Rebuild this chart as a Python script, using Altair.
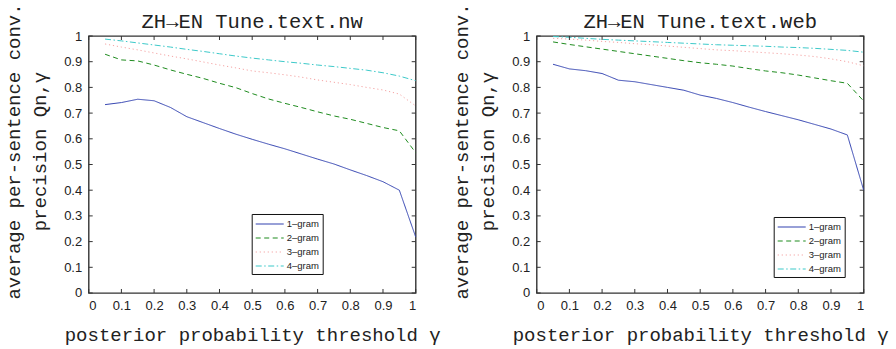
import altair as alt
import pandas as pd

# posterior probability threshold values (x)
gamma = [0.05, 0.10, 0.15, 0.20, 0.25, 0.30, 0.35, 0.40, 0.45, 0.50,
         0.55, 0.60, 0.65, 0.70, 0.75, 0.80, 0.85, 0.90, 0.95, 1.00]

series_names = ["1\u2013gram", "2\u2013gram", "3\u2013gram", "4\u2013gram"]

# Tune.text.nw
nw_1 = [0.733, 0.741, 0.754, 0.748, 0.722, 0.686, 0.663, 0.640, 0.618, 0.598,
        0.579, 0.561, 0.541, 0.521, 0.502, 0.479, 0.457, 0.433, 0.400, 0.218]
nw_2 = [0.929, 0.907, 0.903, 0.887, 0.868, 0.851, 0.835, 0.816, 0.799, 0.776,
        0.755, 0.738, 0.722, 0.705, 0.689, 0.676, 0.660, 0.644, 0.631, 0.546]
nw_3 = [0.969, 0.957, 0.946, 0.934, 0.922, 0.911, 0.899, 0.887, 0.876, 0.864,
        0.857, 0.849, 0.840, 0.829, 0.820, 0.811, 0.800, 0.790, 0.774, 0.728]
nw_4 = [0.988, 0.981, 0.973, 0.965, 0.957, 0.948, 0.940, 0.931, 0.922, 0.914,
        0.907, 0.900, 0.894, 0.887, 0.881, 0.874, 0.867, 0.857, 0.844, 0.826]

# Tune.text.web
web_1 = [0.890, 0.872, 0.865, 0.854, 0.828, 0.822, 0.811, 0.800, 0.789, 0.770,
         0.757, 0.741, 0.723, 0.706, 0.690, 0.674, 0.656, 0.638, 0.615, 0.400]
web_2 = [0.977, 0.967, 0.958, 0.949, 0.940, 0.931, 0.922, 0.913, 0.904, 0.896,
         0.890, 0.883, 0.873, 0.864, 0.857, 0.848, 0.837, 0.826, 0.816, 0.747]
web_3 = [0.991, 0.988, 0.984, 0.979, 0.975, 0.970, 0.966, 0.961, 0.956, 0.951,
         0.946, 0.943, 0.939, 0.935, 0.931, 0.926, 0.920, 0.911, 0.900, 0.884]
web_4 = [0.998, 0.995, 0.991, 0.987, 0.984, 0.981, 0.978, 0.975, 0.972, 0.969,
         0.966, 0.964, 0.962, 0.960, 0.957, 0.955, 0.952, 0.948, 0.944, 0.937]

tick_values = [0, 0.1, 0.2, 0.3, 0.4, 0.5, 0.6, 0.7, 0.8, 0.9, 1]

colors = ["#3242b0", "#1f8c1f", "#f4a3a3", "#3cc9c9"]
dashes = [[1, 0], [5, 3.5], [1.2, 2.8], [6, 2.5, 1.5, 2.5]]

MONO = "Liberation Mono"
SANS = "Liberation Sans"
W, H = 327, 257
TICK = 4


def long_table(cols):
    rows = []
    for name, vals in zip(series_names, cols):
        for g, v in zip(gamma, vals):
            rows.append({"gamma": g, "prec": v, "ngram": name})
    return pd.DataFrame(rows)


ticks_df = pd.DataFrame({"t": tick_values})

x_scale = alt.Scale(domain=[0, 1], nice=False, zero=False)
y_scale = alt.Scale(domain=[0, 1], nice=False, zero=False)

x_axis = alt.Axis(
    values=tick_values, format=".1~f", title="posterior probability threshold \u03b3",
    titleFont=MONO, titleFontSize=19, titleFontWeight="normal", titleColor="#222",
    titleBaseline="alphabetic", titleY=48,
    labelFont=SANS, labelFontSize=13, labelColor="#222", labelPadding=7,
    domain=False, ticks=False, grid=False,
)
y_axis = alt.Axis(
    values=tick_values, format=".1~f",
    title=["average per-sentence conv.", "precision Qn,\u03b3"],
    titleFont=MONO, titleFontSize=19, titleFontWeight="normal", titleColor="#222",
    titleLineHeight=26, titleBaseline="bottom", titleX=-65, titleY=115, titleAngle=270,
    labelFont=SANS, labelFontSize=13, labelColor="#222", labelPadding=7,
    domain=False, ticks=False, grid=False,
)


def panel(title, cols, lx, ly):
    legend = alt.Legend(
        title=None, orient="none", legendX=lx, legendY=ly,
        symbolType="M-1,0H3.67", symbolSize=144, symbolStrokeWidth=1.2,
        labelFont=SANS, labelFontSize=9.5, labelColor="#222", labelOffset=18,
        labelLimit=40,
        strokeColor="#111", fillColor="white", padding=3, rowPadding=2,
        columnPadding=0,
    )
    lines = alt.Chart(long_table(cols)).mark_line(strokeWidth=1.0).encode(
        x=alt.X("gamma:Q", scale=x_scale, axis=x_axis),
        y=alt.Y("prec:Q", scale=y_scale, axis=y_axis),
        color=alt.Color("ngram:N", scale=alt.Scale(domain=series_names, range=colors),
                        legend=legend),
        strokeDash=alt.StrokeDash("ngram:N",
                                  scale=alt.Scale(domain=series_names, range=dashes),
                                  legend=legend),
    )
    base = alt.Chart(ticks_df).mark_rule(color="#333", strokeWidth=1)
    bottom = base.encode(x=alt.X("t:Q", scale=x_scale, axis=x_axis),
                         y=alt.value(H), y2=alt.value(H - TICK))
    top = base.encode(x=alt.X("t:Q", scale=x_scale, axis=x_axis),
                      y=alt.value(0), y2=alt.value(TICK))
    left = base.encode(y=alt.Y("t:Q", scale=y_scale, axis=y_axis),
                       x=alt.value(0), x2=alt.value(TICK))
    right = base.encode(y=alt.Y("t:Q", scale=y_scale, axis=y_axis),
                        x=alt.value(W), x2=alt.value(W - TICK))
    # panel heading, centred over the plot frame
    heading = alt.Chart(pd.DataFrame({"label": [title]})).mark_text(
        font=MONO, fontSize=20.5, color="#222", align="center", baseline="alphabetic"
    ).encode(text="label:N", x=alt.value(W / 2), y=alt.value(-8))
    return alt.layer(lines, bottom, top, left, right, heading).properties(
        width=W, height=H,
    )


left_panel = panel("ZH\u2192EN Tune.text.nw", [nw_1, nw_2, nw_3, nw_4], 163, 178)
right_panel = panel("ZH\u2192EN Tune.text.web", [web_1, web_2, web_3, web_4], 237, 181)

chart = alt.hconcat(left_panel, right_panel, spacing=121, bounds="flush").resolve_legend(
    color="independent", strokeDash="independent"
).resolve_scale(
    color="independent", strokeDash="independent"
).configure_view(
    stroke="#333", strokeWidth=1.4
).properties(
    padding={"left": 3.7, "top": 2, "right": 5, "bottom": 5},
    background="white",
)

chart.save("out.html", embed_options={"renderer": "svg", "actions": False})
